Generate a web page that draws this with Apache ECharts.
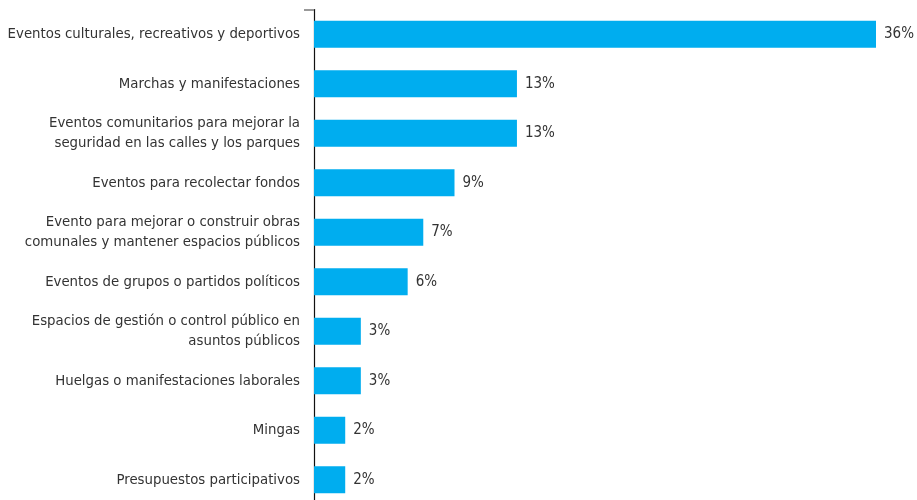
<!DOCTYPE html>
<html>
<head>
<meta charset="utf-8">
<script src="https://cdn.jsdelivr.net/npm/echarts@6/dist/echarts.min.js"></script>
<style>
  html, body { margin: 0; padding: 0; background: #fff; }
  #chart { width: 917px; height: 500px; }
</style>
</head>
<body>
<div id="chart"></div>
<script>
const categories = [
  'Eventos culturales, recreativos y deportivos',
  'Marchas y manifestaciones',
  'Eventos comunitarios para mejorar la\nseguridad en las calles y los parques',
  'Eventos para recolectar fondos',
  'Evento para mejorar o construir obras\ncomunales y mantener espacios públicos',
  'Eventos de grupos o partidos políticos',
  'Espacios de gestión o control público en\nasuntos públicos',
  'Huelgas o manifestaciones laborales',
  'Mingas',
  'Presupuestos participativos'
];
const values = [36, 13, 13, 9, 7, 6, 3, 3, 2, 2];

const font = "'Liberation Sans Narrow', 'DejaVu Sans Condensed', 'Roboto', sans-serif";

const chart = echarts.init(document.getElementById('chart'));
chart.setOption({
  animation: false,
  grid: { left: 314, top: 9.5, width: 562, height: 495, containLabel: false, outerBoundsMode: 'none' },
  xAxis: {
    type: 'value',
    min: 0,
    max: 36,
    show: false
  },
  yAxis: {
    type: 'category',
    inverse: true,
    data: categories,
    axisLine: { show: true, lineStyle: { color: '#111', width: 1.2 } },
    axisTick: {
      show: true,
      length: 10,
      interval: (idx) => idx === 0,
      lineStyle: { color: '#999', width: 2 }
    },
    axisLabel: {
      margin: 14,
      fontFamily: font,
      fontSize: 14.8,
      color: '#333',
      lineHeight: 20,
      align: 'right'
    }
  },
  series: [{
    type: 'bar',
    data: values,
    barWidth: 27,
    itemStyle: { color: '#00adef' },
    label: {
      show: true,
      position: 'right',
      distance: 8,
      formatter: '{c}%',
      fontFamily: font,
      fontSize: 15,
      color: '#333'
    }
  }]
});
</script>
</body>
</html>
